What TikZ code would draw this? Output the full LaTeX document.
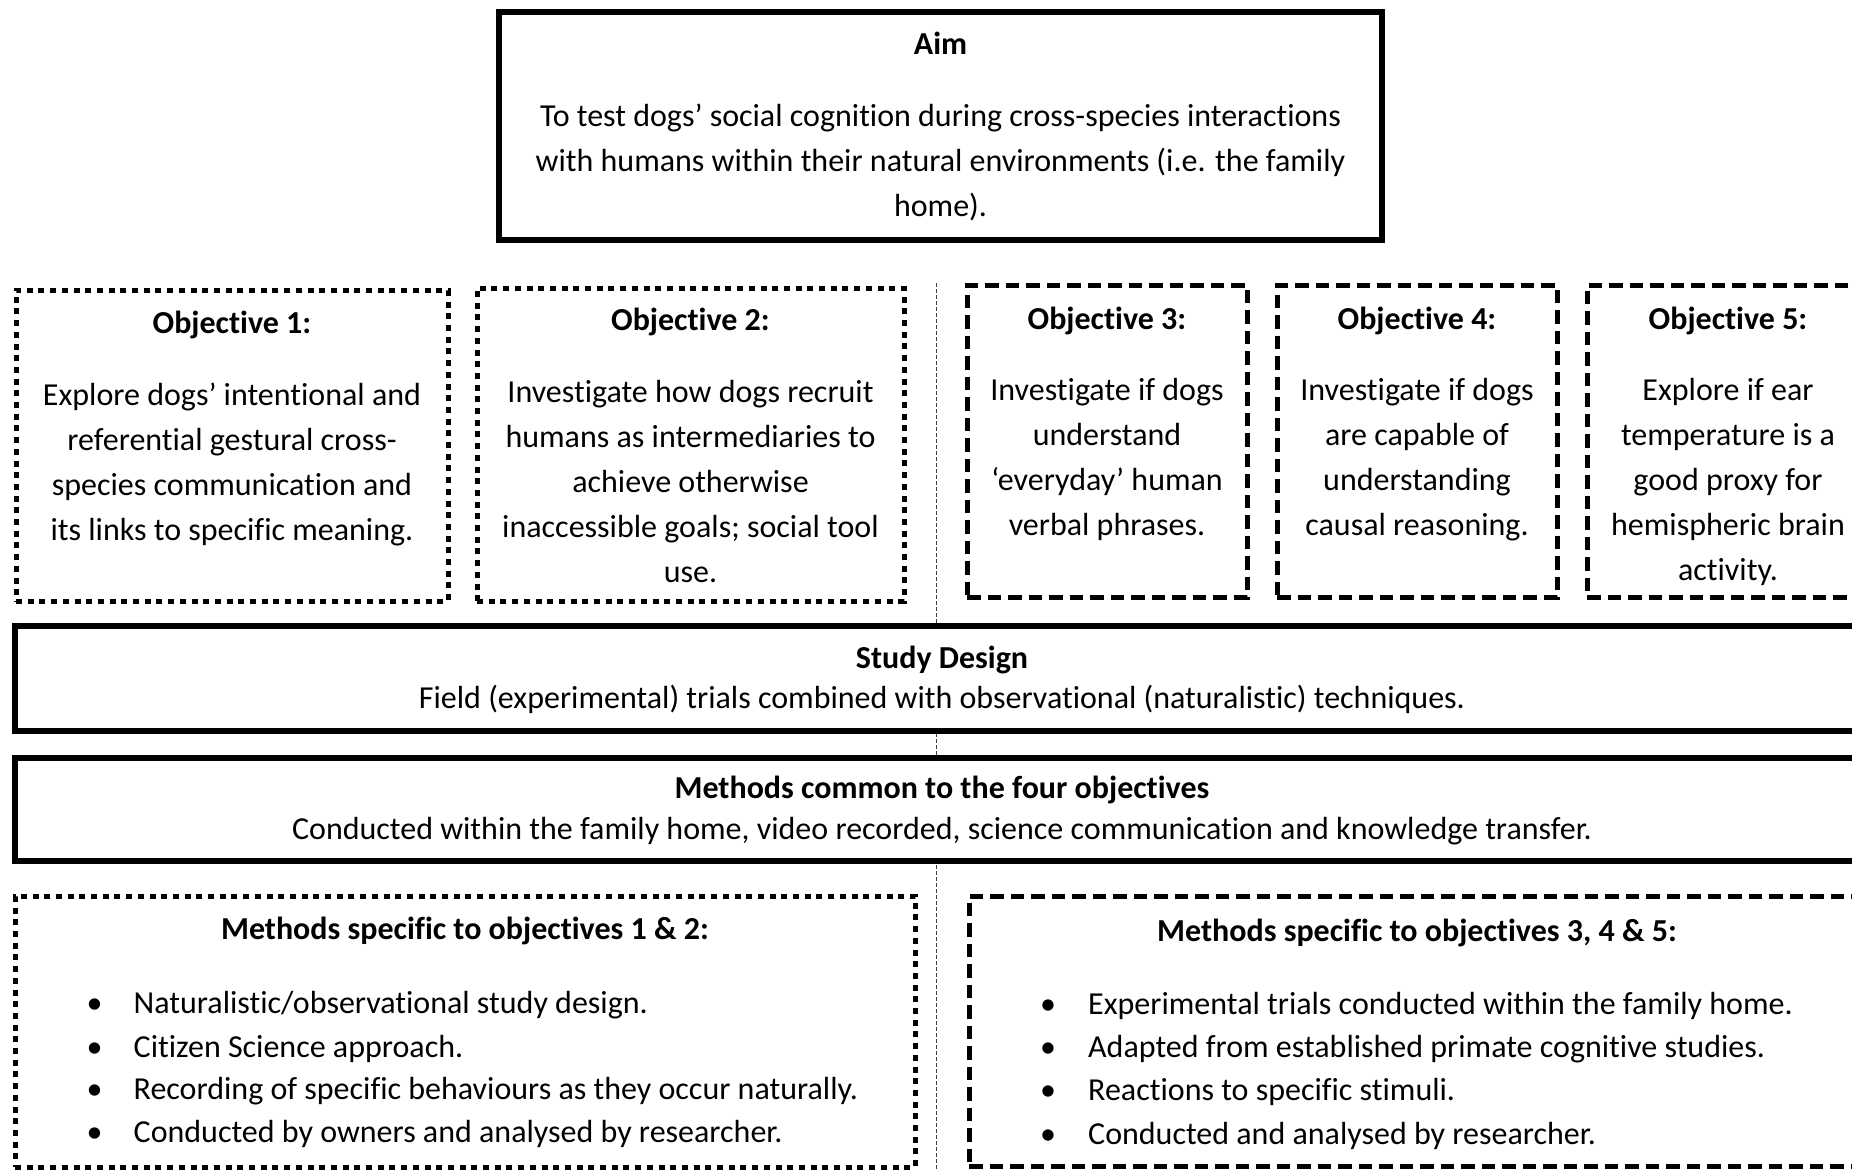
\documentclass[tikz,border=0pt]{standalone}
\usepackage{fontspec}
\setmainfont{Carlito}[Ligatures=NoCommon]
\tikzset{
  frame/.style={draw=black, fill=white, line width=5.5pt, inner sep=0pt},
  dotframe/.style={draw=black, line width=5pt, dash pattern=on 6pt off 5.7pt, inner sep=0pt},
  dashframe/.style={draw=black, line width=5pt, dash pattern=on 13.5pt off 7pt, inner sep=0pt},
  divider/.style={draw=black!75, line width=1pt, dash pattern=on 4pt off 2pt},
  txt/.style={inner sep=0pt, anchor=base, align=center, font=\fontsize{32}{45}\selectfont},
  head/.style={inner sep=0pt, anchor=base, align=center, font=\fontsize{32}{45}\selectfont\bfseries},
  bul/.style={inner sep=0pt, anchor=base, font=\fontsize{32}{43}\selectfont},
  itm/.style={inner sep=0pt, anchor=base west, font=\fontsize{32}{43}\selectfont},
}
\begin{document}
\begin{tikzpicture}[x=1pt,y=-1pt]
\useasboundingbox (0,0) rectangle (1852,1170);
\clip (0,0) rectangle (1852,1170);

% vertical separator between the two groups of objectives
\coordinate (divtop) at (936,283);
\coordinate (divbot) at (936,1172);
\draw[divider] (divtop) -- (divbot);

% aim (multi-line texts are placed by the baseline of their last line)
\node[frame, minimum width=883pt, minimum height=228pt] (aim) at (940.5,126) {};
\node[head] (aimhead) at (940.5,54) {Aim};
\node[txt] (aimbody) at (940.5,216) {To test dogs’ social cognition during cross-species interactions\\
with humans within their natural environments (i.e. the family\\ home).};

% objectives
\node[dotframe, minimum width=432pt, minimum height=311pt] (obj1) at (232,445.5) {};
\node[head] (obj1head) at (232,333) {Objective 1:};
\node[txt] (obj1body) at (232,540) {Explore dogs’ intentional and\\ referential gestural cross-\\
species communication and\\ its links to specific meaning.};

\node[dotframe, minimum width=427pt, minimum height=313pt] (obj2) at (690.5,444.5) {};
\node[head] (obj2head) at (690.5,330) {Objective 2:};
\node[txt] (obj2body) at (690.5,582) {Investigate how dogs recruit\\ humans as intermediaries to\\
achieve otherwise\\ inaccessible goals; social tool\\ use.};

\node[dashframe, minimum width=280pt, minimum height=312pt] (obj3) at (1107,441) {};
\node[head] (obj3head) at (1107,329) {Objective 3:};
\node[txt] (obj3body) at (1107,535) {Investigate if dogs\\ understand\\ ‘everyday’ human\\ verbal phrases.};

\node[dashframe, minimum width=280pt, minimum height=312pt] (obj4) at (1417,441) {};
\node[head] (obj4head) at (1417,329) {Objective 4:};
\node[txt] (obj4body) at (1417,535) {Investigate if dogs\\ are capable of\\ understanding\\ causal reasoning.};

\node[dashframe, minimum width=282pt, minimum height=312pt] (obj5) at (1728,441) {};
\node[head] (obj5head) at (1728,329) {Objective 5:};
\node[txt] (obj5body) at (1728,580) {Explore if ear\\ temperature is a\\ good proxy for\\ hemispheric brain\\ activity.};

% study design and common methods
\node[frame, minimum width=1855pt, minimum height=105pt] (study) at (942.5,678.5) {};
\node[head] (studyhead) at (942,668) {Study Design};
\node[txt] (studybody) at (942,708) {Field (experimental) trials combined with observational (naturalistic) techniques.};

\node[frame, minimum width=1855pt, minimum height=103pt] (common) at (942.5,809.5) {};
\node[head] (commonhead) at (942,798) {Methods common to the four objectives};
\node[txt] (commonbody) at (942,839) {Conducted within the family home, video recorded, science communication and knowledge transfer.};

% specific methods, objectives 1 and 2
\node[dotframe, minimum width=900pt, minimum height=271pt] (mleft) at (465,1031.5) {};
\node[head] (mlefthead) at (465,939) {Methods specific to objectives 1 \& 2:};
\node[bul] (lb1) at (94.5,1013) {•};
\node[itm] (li1) at (133.5,1013) {Naturalistic/observational study design.};
\node[bul] (lb2) at (94.5,1057) {•};
\node[itm] (li2) at (133.5,1057) {Citizen Science approach.};
\node[bul] (lb3) at (94.5,1099) {•};
\node[itm] (li3) at (133.5,1099) {Recording of specific behaviours as they occur naturally.};
\node[bul] (lb4) at (94.5,1142) {•};
\node[itm] (li4) at (133.5,1142) {Conducted by owners and analysed by researcher.};

% specific methods, objectives 3 to 5
\node[dashframe, minimum width=897pt, minimum height=270pt] (mright) at (1417.5,1031) {};
\node[head] (mrighthead) at (1417,941) {Methods specific to objectives 3, 4 \& 5:};
\node[bul] (rb1) at (1048,1014) {•};
\node[itm] (ri1) at (1088,1014) {Experimental trials conducted within the family home.};
\node[bul] (rb2) at (1048,1057) {•};
\node[itm] (ri2) at (1088,1057) {Adapted from established primate cognitive studies.};
\node[bul] (rb3) at (1048,1100) {•};
\node[itm] (ri3) at (1088,1100) {Reactions to specific stimuli.};
\node[bul] (rb4) at (1048,1144) {•};
\node[itm] (ri4) at (1088,1144) {Conducted and analysed by researcher.};
\end{tikzpicture}
\end{document}
